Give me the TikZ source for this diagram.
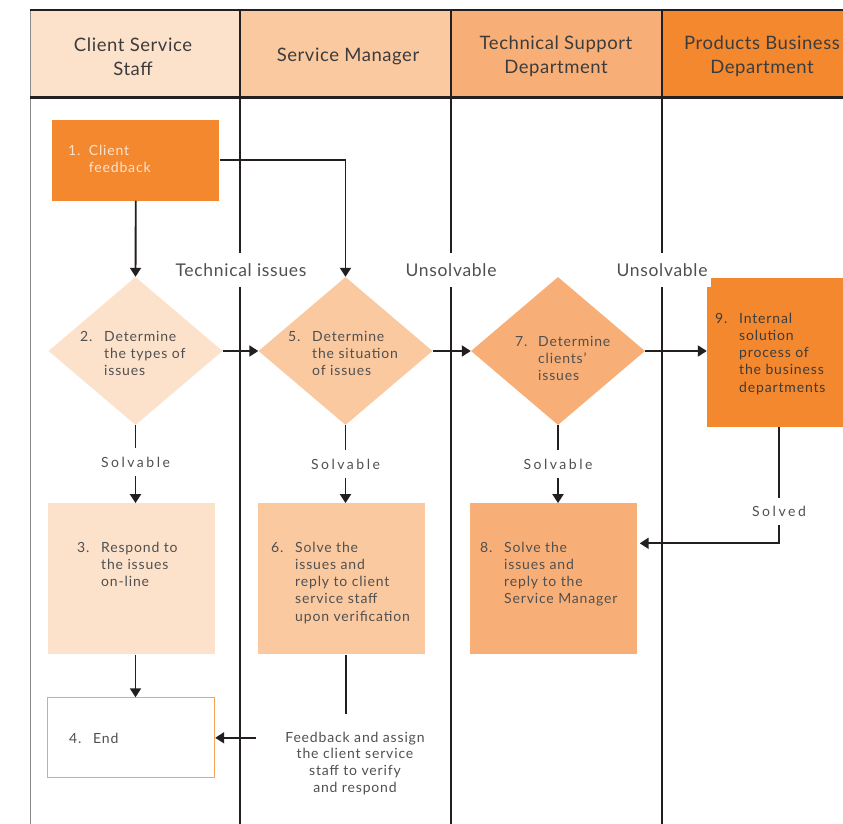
\documentclass[tikz,border=0pt]{standalone}
\usepackage{fontspec}
\setmainfont{Lato}
\newfontfamily\bodyfont[LetterSpace=6]{Lato}
\newfontfamily\trackfont[LetterSpace=18]{Lato}
\usetikzlibrary{arrows.meta,shapes.geometric}

\definecolor{laneA}{HTML}{FDE2CB}
\definecolor{laneB}{HTML}{FAC9A0}
\definecolor{laneC}{HTML}{F8AF77}
\definecolor{laneD}{HTML}{F3882F}
\definecolor{inkc}{HTML}{231F20}
\definecolor{edgec}{HTML}{8A8A8A}
\definecolor{txtc}{HTML}{505050}
\definecolor{headtxt}{HTML}{3C3C3C}
\definecolor{lighttxt}{HTML}{FDE3CC}
\definecolor{endedge}{HTML}{F6A45C}

% numbered step text: number, then a hanging block of lines
\newcommand{\steptext}[3][24pt]{\makebox[#1][l]{#2}\begin{tabular}[t]{@{}l@{}}#3\end{tabular}}

\begin{document}
\begin{tikzpicture}[x=1pt,y=-1pt,
  lane/.style={draw=inkc, line width=1.9pt},
  flowline/.style={draw=inkc, line width=1.9pt},
  flow/.style={draw=inkc, line width=1.9pt, -{Triangle[length=9pt,width=11pt]}},
  headcell/.style={rectangle, draw=none, inner sep=0pt, minimum height=87pt},
  headtext/.style={inner sep=0pt, text=headtxt, align=center,
    font=\fontsize{18.5pt}{24pt}\selectfont\addfontfeature{LetterSpace=3}},
  box/.style={rectangle, draw=none, inner sep=0pt},
  decision/.style={diamond, draw=none, inner sep=0pt, minimum width=174pt, minimum height=148pt},
  steptxt/.style={anchor=base west, inner sep=0pt, text=txtc,
    font=\bodyfont\fontsize{14pt}{17.3pt}\selectfont},
  tag/.style={fill=white, inner xsep=3pt, inner ysep=0pt, text=txtc,
    font=\fontsize{17.5pt}{20pt}\selectfont\addfontfeature{LetterSpace=4}},
  cond/.style={fill=white, inner xsep=3pt, inner ysep=0pt, minimum height=27pt, text=txtc,
    font=\trackfont\fontsize{14pt}{17pt}\selectfont}
]
\useasboundingbox (0,0) rectangle (843,824);
\clip (0,0) rectangle (843,824);
\fill[white] (0,0) rectangle (843,824);

% ---- lane headers ----
\node[headcell, fill=laneA, minimum width=210pt] (hA) at (135,53.5) {};
\node[headcell, fill=laneB, minimum width=211pt] (hB) at (345.5,53.5) {};
\node[headcell, fill=laneC, minimum width=211pt] (hC) at (556.5,53.5) {};
\node[headcell, fill=laneD, minimum width=200pt] (hD) at (762,53.5) {};
\node[headtext] (hAt) at (133,57) {Client Service\\Staff};
\node[headtext] (hBt) at (348,56) {Service Manager};
\node[headtext] (hCt) at (556,56.5) {Technical Support\\Department};
\node[headtext] (hDt) at (762,56.5) {Products Business\\Department};

% ---- lane rules ----
\draw[draw=edgec, line width=1.5pt] (30.5,10) -- (30.5,824);
\draw[lane] (30,10) -- (843,10);
\draw[draw=inkc, line width=2.7pt] (30,97.5) -- (843,97.5);
\draw[lane] (240,10) -- (240,824);
\draw[lane] (451,10) -- (451,824);
\draw[lane] (662,10) -- (662,824);

% ---- step shapes ----
\node[box, fill=laneD, minimum width=167pt, minimum height=80.5pt] (s1) at (135.8,160.3) {};
\node[decision, fill=laneA] (s2) at (135.5,351) {};
\node[decision, fill=laneB] (s5) at (345.5,351) {};
\node[decision, fill=laneC] (s7) at (558,351) {};
\node[box, fill=laneD, minimum width=144pt, minimum height=148.5pt] (s9) at (779,352.5) {};
\node[box, fill=laneA, minimum width=167pt, minimum height=151pt] (s3) at (131.4,578.8) {};
\node[box, fill=laneB, minimum width=167pt, minimum height=151pt] (s6) at (341,578.8) {};
\node[box, fill=laneC, minimum width=167pt, minimum height=151pt] (s8) at (553,578.8) {};
\node[box, fill=white, draw=endedge, line width=1pt, minimum width=167pt, minimum height=80pt] (s4) at (131.2,737.8) {};

% ---- step texts ----
\node[steptxt, text=lighttxt] (t1) at (68,155.5) {\steptext[20.7pt]{1.}{Client\\feedback}};
\node[steptxt] (t2) at (80,341) {\steptext{2.}{Determine\\the types of\\issues}};
\node[steptxt] (t5) at (288,341) {\steptext{5.}{Determine\\the situation\\of issues}};
\node[steptxt] (t7) at (515,346) {\steptext[23pt]{7.}{Determine\\clients’\\issues}};
\node[steptxt, text=headtxt] (t9) at (715,323) {\steptext{9.}{Internal\\solution\\process of\\the business\\departments}};
\node[steptxt] (t3) at (77,552) {\steptext{3.}{Respond to\\the issues\\on-line}};
\node[steptxt] (t6) at (271,552) {\steptext{6.}{Solve the\\issues and\\reply to client\\service staff\\upon verification}};
\node[steptxt] (t8) at (480,552) {\steptext{8.}{Solve the\\issues and\\reply to the\\Service Manager}};
\node[steptxt] (t4) at (69,743.5) {\steptext{4.}{End}};

% ---- branch labels over the lane rules ----
\node[tag, minimum height=34pt] (lt) at (241,270) {Technical issues};
\node[tag, minimum height=34pt] (lu1) at (451,270) {Unsolvable};
\node[tag, minimum height=34pt] (lu2) at (662,270) {Unsolvable};

\node[cond] (c2) at (135.5,462) {Solvable};
\node[cond] (c5) at (345.5,464) {Solvable};
\node[cond] (c7) at (558,464) {Solvable};
\node[cond] (c9) at (779,511.5) {Solved};

% ---- connectors ----
\draw[flow] (s1.south) -- (s2.north);
\draw[flow] (s1.east) -| (s5.north);
\draw[flow] (s2.east) -- (s5.west);
\draw[flow] (s5.east) -- (s7.west);
\draw[flow] (s7.east) -- (s9.west |- s7.east);

\draw[flowline] (s2.south) -- (c2.north);
\draw[flow] (c2.south) -- (c2.south |- s3.north);
\draw[flowline] (s5.south) -- (c5.north);
\draw[flow] (c5.south) -- (c5.south |- s6.north);
\draw[flowline] (s7.south) -- (c7.north);
\draw[flow] (c7.south) -- (c7.south |- s8.north);

\draw[flowline] (s9.south) -- (c9.north);
\coordinate (bend9) at (779,543.3);
\draw[flow] (c9.south) -- (bend9) -- ([xshift=3pt]s8.east |- bend9);

\draw[flow] (s3.south -| s2.south) -- (s4.north -| s2.south);

% ---- feedback from step 6 to the end step ----
\node[anchor=north, inner sep=0pt, align=center, text=txtc,
  font=\bodyfont\fontsize{14pt}{16.7pt}\selectfont] (fb) at (355,731.5)
  {Feedback and assign\\the client service\\staff to verify\\and respond};
\coordinate (fbtop) at (345.7,714.3);
\coordinate (fbstart) at (255.7,737.8);
\draw[flowline] (s6.south -| fbtop) -- (fbtop);
\draw[flow] (fbstart) -- (s4.east);
\end{tikzpicture}
\end{document}
